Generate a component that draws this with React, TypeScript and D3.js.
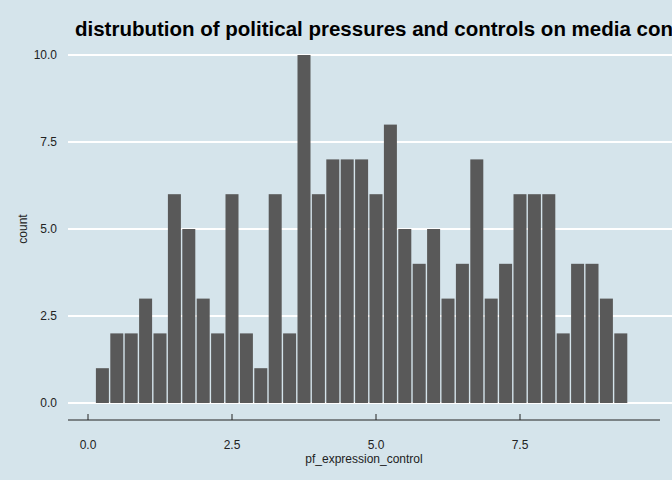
import * as d3 from "d3";

const binStart = 0.125;
const binWidth = 0.25;
const counts = [1, 2, 2, 3, 2, 6, 5, 3, 2, 6, 2, 1, 6, 2, 10, 6, 7, 7, 7, 6, 8, 5, 4, 5, 3, 4, 7, 3, 4, 6, 6, 6, 2, 4, 4, 3, 2];
const xTicks = [0, 2.5, 5, 7.5];
const yTicks = [0, 2.5, 5, 7.5, 10];

export default function App() {
  const width = 672;
  const height = 480;
  const x = d3.scaleLinear().domain([0, 7.5]).range([88, 520]);
  const y = d3.scaleLinear().domain([0, 10]).range([403, 55]);
  const font = "Liberation Sans, Arial, sans-serif";

  return (
    <svg width={width} height={height} style={{ position: "absolute", left: 0, top: 0 }}>
      <rect width={width} height={height} fill="#d5e4eb" />
      {yTicks.map((t) => (
        <g key={t}>
          <line x1={68} x2={672} y1={y(t)} y2={y(t)} stroke="#fff" strokeWidth={2} />
          <text x={57} y={y(t)} dy="0.35em" textAnchor="end" fontFamily={font} fontSize={12} fill="#222">
            {t.toFixed(1)}
          </text>
        </g>
      ))}
      {counts.map((c, i) => {
        const x0 = x(binStart + i * binWidth);
        const x1 = x(binStart + (i + 1) * binWidth);
        return <rect key={i} x={x0 + 0.7} width={x1 - x0 - 1.4} y={y(c)} height={y(0) - y(c)} fill="#595959" />;
      })}
      <line x1={68} x2={660} y1={420} y2={420} stroke="#222" strokeWidth={1} />
      {xTicks.map((t) => (
        <g key={t}>
          <line x1={x(t)} x2={x(t)} y1={414} y2={420} stroke="#222" />
          <text x={x(t)} y={449} textAnchor="middle" fontFamily={font} fontSize={12} fill="#222">
            {t.toFixed(1)}
          </text>
        </g>
      ))}
      <text x={364} y={463} textAnchor="middle" fontFamily={font} fontSize={12} fill="#222">
        pf_expression_control
      </text>
      <text transform="translate(27,229) rotate(-90)" textAnchor="middle" fontFamily={font} fontSize={12} fill="#222">
        count
      </text>
      <text x={75} y={36} fontFamily={font} fontSize={20.5} fontWeight="bold" fill="#000">
        distrubution of political pressures and controls on media content
      </text>
    </svg>
  );
}
